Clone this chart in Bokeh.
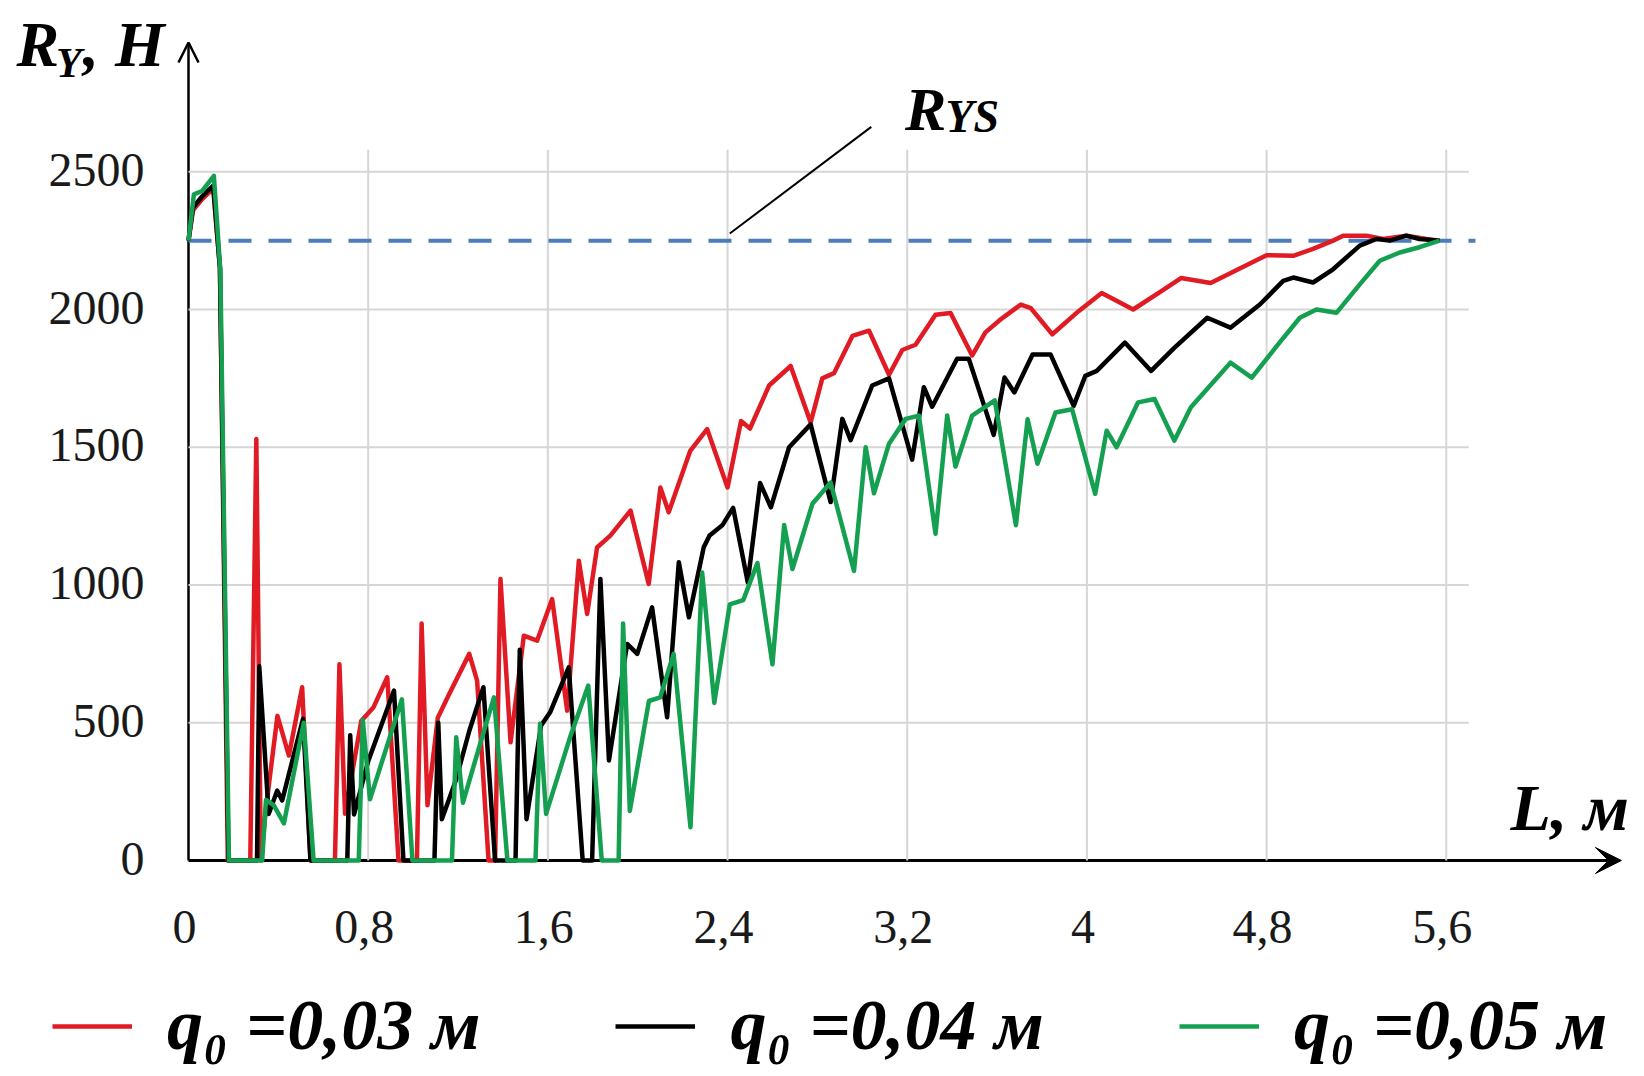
from bokeh.plotting import figure
from bokeh.models import Range1d, Arrow, OpenHead, VeeHead, Label, Legend, LegendItem
from bokeh.embed import file_html
from bokeh.resources import INLINE

# ---------------- data ----------------
L_q003 = [0, 0.02, 0.06, 0.11, 0.14, 0.175, 0.275, 0.302, 0.322, 0.345, 0.396, 0.447, 0.506, 0.543,
          0.652, 0.672, 0.697, 0.769, 0.823, 0.885, 0.935, 1.017, 1.038, 1.064, 1.11, 1.157, 1.25,
          1.285, 1.336, 1.365, 1.389, 1.434, 1.493, 1.552, 1.619, 1.686, 1.738, 1.775, 1.819, 1.878,
          1.968, 2.049, 2.101, 2.138, 2.234, 2.309, 2.40, 2.46, 2.50, 2.585, 2.681, 2.77, 2.822,
          2.874, 2.956, 3.03, 3.119, 3.178, 3.237, 3.326, 3.393, 3.489, 3.548, 3.622, 3.706, 3.75,
          3.846, 3.963, 4.066, 4.206, 4.33, 4.419, 4.551, 4.683, 4.8, 4.919, 5.007, 5.096, 5.141,
          5.244, 5.319, 5.422, 5.511, 5.57]
R_q003 = [2250, 2360, 2400, 2440, 2150, 0, 0, 1530, 0, 190, 525, 381, 629, 0,
          0, 712, 170, 506, 555, 665, 0, 0, 860, 201, 518, 598, 750,
          653, 0, 0, 1022, 429, 816, 798, 949, 544, 1088, 895, 1136, 1179,
          1270, 1004, 1354, 1264, 1487, 1566, 1354, 1595, 1568, 1724, 1795, 1590, 1750,
          1769, 1904, 1923, 1763, 1853, 1872, 1981, 1987, 1833, 1917, 1968, 2018, 2005,
          1910, 1994, 2060, 2000, 2066, 2114, 2096, 2150, 2197, 2195, 2220, 2250, 2268,
          2268, 2256, 2268, 2256, 2250]

L_q004 = [0, 0.02, 0.06, 0.11, 0.14, 0.178, 0.305, 0.315, 0.357, 0.395, 0.417, 0.51, 0.543,
          0.707, 0.72, 0.737, 0.80, 0.915, 0.957, 1.095, 1.112, 1.128, 1.19, 1.25, 1.313, 1.365,
          1.456, 1.475, 1.505, 1.57, 1.61, 1.693, 1.755, 1.797, 1.834, 1.872, 1.953, 1.998, 2.064,
          2.131, 2.183, 2.228, 2.294, 2.32, 2.378, 2.425, 2.49, 2.545, 2.593, 2.674, 2.77, 2.859,
          2.911, 2.948, 3.044, 3.119, 3.222, 3.274, 3.311, 3.422, 3.474, 3.585, 3.633, 3.677,
          3.758, 3.838, 3.941, 3.993, 4.044, 4.169, 4.286, 4.389, 4.536, 4.639, 4.77, 4.874,
          4.919, 5.007, 5.096, 5.215, 5.289, 5.348, 5.422, 5.481, 5.57]
R_q004 = [2250, 2370, 2410, 2450, 2150, 0, 0, 705, 169, 254, 218, 514, 0,
          0, 455, 167, 360, 617, 0, 0, 500, 150, 290, 470, 629, 0,
          0, 765, 150, 490, 538, 701, 0, 0, 1022, 363, 786, 750, 919,
          520, 1083, 883, 1137, 1180, 1218, 1280, 1010, 1370, 1282, 1500, 1583, 1301,
          1603, 1526, 1724, 1750, 1455, 1718, 1647, 1821, 1821, 1545, 1753, 1699,
          1837, 1837, 1650, 1759, 1777, 1880, 1777, 1861, 1970, 1934, 2018, 2104,
          2116, 2098, 2146, 2232, 2256, 2250, 2268, 2256, 2250]

L_q005 = [0, 0.024, 0.06, 0.113, 0.142, 0.18, 0.328, 0.345, 0.38, 0.425, 0.513, 0.557,
          0.758, 0.776, 0.808, 0.95, 0.997, 1.173, 1.192, 1.222, 1.29, 1.36, 1.42, 1.545,
          1.565, 1.592, 1.70, 1.78, 1.84, 1.915, 1.935, 1.965, 2.05, 2.10, 2.16, 2.235, 2.287,
          2.341, 2.41, 2.47, 2.533, 2.6, 2.652, 2.689, 2.778, 2.859, 2.963, 3.015, 3.052, 3.119,
          3.193, 3.252, 3.326, 3.378, 3.415, 3.489, 3.59, 3.684, 3.736, 3.78, 3.86, 3.934, 4.037,
          4.088, 4.132, 4.228, 4.301, 4.389, 4.463, 4.639, 4.734, 4.844, 4.948, 5.022, 5.111,
          5.215, 5.304, 5.393, 5.481, 5.57]
R_q005 = [2250, 2418, 2430, 2485, 2140, 0, 0, 220, 200, 135, 500, 0,
          0, 510, 222, 585, 0, 0, 447, 210, 400, 592, 0, 0,
          496, 169, 450, 635, 0, 0, 860, 180, 579, 592, 750, 121, 1045,
          572, 930, 945, 1080, 712, 1218, 1058, 1295, 1372, 1051, 1500, 1333, 1513,
          1603, 1615, 1186, 1615, 1430, 1615, 1670, 1217, 1602, 1440, 1626, 1638, 1331,
          1560, 1500, 1663, 1675, 1524, 1645, 1807, 1753, 1866, 1970, 2000, 1988,
          2091, 2177, 2207, 2226, 2250]

series_labels = ["q\u2080 =0,03 м", "q\u2080 =0,04 м", "q\u2080 =0,05 м"]
series_colors = ["#e01b24", "#000000", "#14a050"]

x_ticks = [0, 0.8, 1.6, 2.4, 3.2, 4.0, 4.8, 5.6]
x_tick_labels = ["0", "0,8", "1,6", "2,4", "3,2", "4", "4,8", "5,6"]
y_ticks = [0, 500, 1000, 1500, 2000, 2500]
y_tick_labels = ["0", "500", "1000", "1500", "2000", "2500"]
R_YS = 2250

# annotation anchors
leader_x = [2.41, 3.04]
leader_y = [2276, 2663]

# ---------------- figure ----------------
W, H = 1640, 1072
PX_X = 224.6      # px per unit of L
PX_Y = 0.2755     # px per N
X0, Y0 = 188, 860  # pixel position of origin
p = figure(width=W, height=H, output_backend="svg", toolbar_location=None,
           x_axis_location=None, y_axis_location=None,
           x_range=Range1d(-X0 / PX_X, (W - X0) / PX_X),
           y_range=Range1d(-(H - Y0) / PX_Y, Y0 / PX_Y),
           min_border=0, min_border_left=0, min_border_right=0, min_border_top=0, min_border_bottom=0)
p.outline_line_color = None
p.background_fill_color = "white"
p.border_fill_color = "white"
p.xgrid.visible = False
p.ygrid.visible = False

# grid (bounded box)
grid_col = "#d6d6d6"
p.segment(x0=x_ticks[1:], y0=[0] * (len(x_ticks) - 1), x1=x_ticks[1:], y1=[2580] * (len(x_ticks) - 1),
          line_color=grid_col, line_width=2)
p.segment(x0=[0] * (len(y_ticks) - 1), y0=y_ticks[1:], x1=[5.7] * (len(y_ticks) - 1), y1=y_ticks[1:],
          line_color=grid_col, line_width=2)

# tick labels
p.text(x=x_ticks, y=[0] * len(x_ticks), text=x_tick_labels, text_align="center",
       text_baseline="alphabetic", y_offset=66, x_offset=-4, text_font="Liberation Serif",
       text_font_size="48px", text_color="#1a1a1a")
p.text(x=[-44 / PX_X] * len(y_ticks), y=y_ticks, text=y_tick_labels, text_align="right",
       text_baseline="alphabetic", y_offset=-2, text_font="Liberation Serif",
       text_font_size="48px", text_color="#1a1a1a")

# axis arrows
ax_y = Arrow(end=OpenHead(size=20, line_width=2.5, line_color="black"), x_start=0, y_start=0,
             x_end=0, y_end=2969, line_width=2.5, line_color="black", level="underlay")
ax_x = Arrow(end=VeeHead(size=26, fill_color="black", line_color="black"), x_start=0, y_start=0,
             x_end=6.38, y_end=0, line_width=3, line_color="black", level="underlay")
p.add_layout(ax_y)
p.add_layout(ax_x)

# R_YS dashed line
p.line([0, 5.73], [R_YS, R_YS], line_color="#4d7cbc", line_width=4, line_dash="23 17")
p.line(leader_x, leader_y, line_color="black", line_width=2)

# curves
rs = []
for xs, ys, c in ((L_q003, R_q003, series_colors[0]), (L_q004, R_q004, series_colors[1]),
                  (L_q005, R_q005, series_colors[2])):
    rs.append(p.line(xs, ys, line_color=c, line_width=4.5, line_join="round"))

legend = Legend(items=[LegendItem(label=l, renderers=[r]) for l, r in zip(series_labels, rs)],
                location=(52, 5), orientation="horizontal", glyph_width=80, glyph_height=30,
                label_standoff=35, spacing=135, padding=0, margin=0, border_line_color=None,
                background_fill_alpha=0, label_text_font="Liberation Serif",
                label_text_font_style="bold italic", label_text_font_size="72px",
                label_text_color="black")
p.add_layout(legend)

# text labels
def lab(x, y, t, size):
    p.add_layout(Label(x=x, y=y, text=t, text_font="Liberation Serif", text_font_style="bold italic",
                       text_font_size=size, text_color="black", text_baseline="alphabetic"))

lab(-0.766, 2962, "R", "64px")
lab(-0.59, 2896, "Y", "42px")
lab(-0.47, 2962, ", H", "64px")
lab(3.19, 2726, "R", "62px")
lab(3.37, 2701, "YS", "46px")
lab(5.886, 192, "L, м", "66px")

open("out.html", "w").write(file_html(p, INLINE))
